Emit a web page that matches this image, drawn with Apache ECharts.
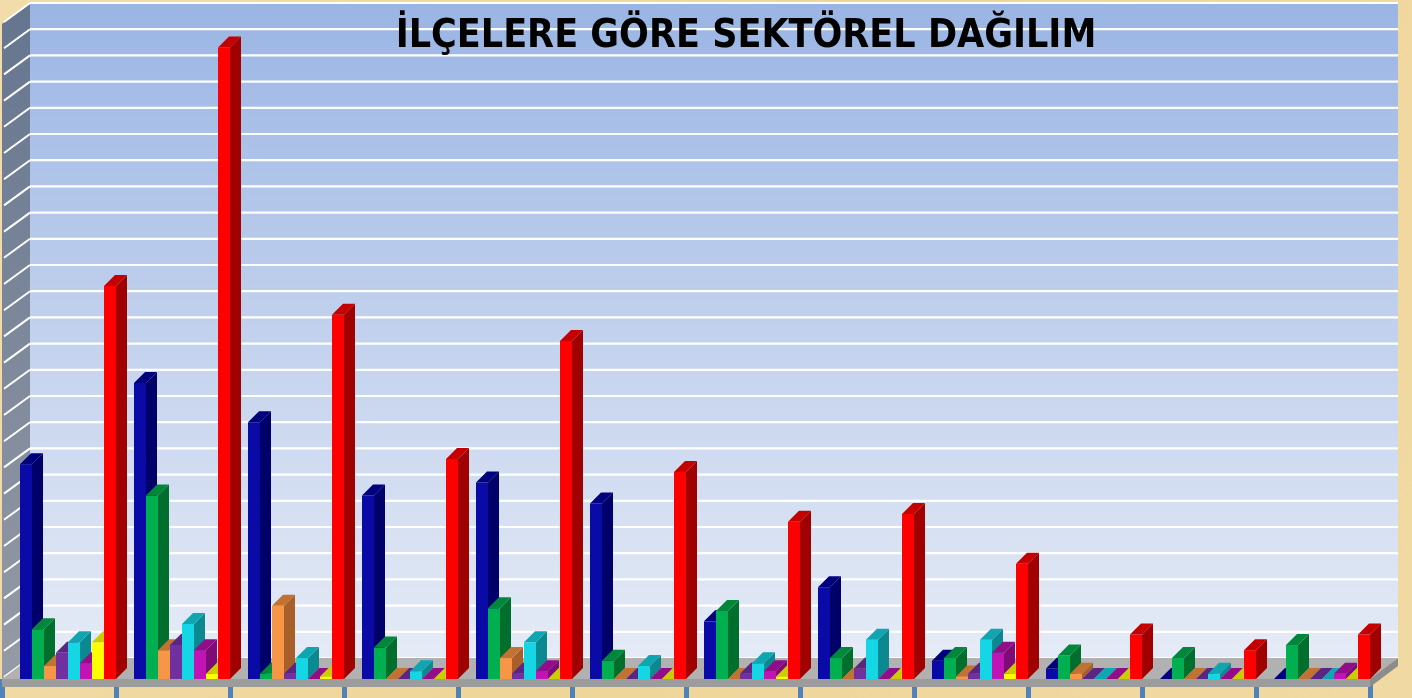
<!DOCTYPE html>
<html lang="tr">
<head>
  <meta charset="UTF-8">
  <title>İlçelere Göre Sektörel Dağılım</title>
  <script src="https://cdn.jsdelivr.net/npm/echarts@6/dist/echarts.min.js"></script>
  <style>
    html, body { margin: 0; padding: 0; background: #f0d9a2; }
    #chart { width: 1412px; height: 698px; }
  </style>
</head>
<body>
  <div id="chart"></div>
<script>
  // district names are cut off in the source picture
  const categories = ['İlçe 1', 'İlçe 2', 'İlçe 3', 'İlçe 4', 'İlçe 5', 'İlçe 6',
                      'İlçe 7', 'İlçe 8', 'İlçe 9', 'İlçe 10', 'İlçe 11', 'İlçe 12'];
  const seriesNames = ['Seri 1', 'Seri 2', 'Seri 3', 'Seri 4', 'Seri 5', 'Seri 6', 'Seri 7', 'Seri 8'];

  const blue    = [82, 113, 98, 70, 75, 67, 22, 35, 7, 4, 0, 0];
  const green   = [19, 70, 2, 12, 27, 7, 26, 8, 8, 9, 8, 13];
  const orange  = [5, 11, 28, 0, 8, 0, 0, 0, 1, 2, 0, 0];
  const purple  = [10, 13, 2, 0, 2, 0, 2, 4, 2, 0, 0, 0];
  const cyan    = [14, 21, 8, 3, 14, 5, 6, 15, 15, 0, 2, 0];
  const magenta = [6, 11, 0, 0, 3, 0, 3, 0, 10, 0, 0, 2];
  const yellow  = [14, 2, 1, 0, 0, 0, 1, 0, 2, 0, 0, 0];
  const red     = [150, 241, 139, 84, 129, 79, 60, 63, 44, 17, 11, 17];

  const values = [blue, green, orange, purple, cyan, magenta, yellow, red];

  // front / side / top colours for the fake 3d bars
  const palette = [
    ['#0a0aa6', '#00006a', '#00007e'],
    ['#00b050', '#006f2e', '#00873c'],
    ['#f79646', '#a85f2a', '#c27232'],
    ['#7030a0', '#4b1f6e', '#5a2684'],
    ['#14d6e4', '#0b8890', '#0fa6b2'],
    ['#c214b4', '#7e0b76', '#930c8a'],
    ['#ffff00', '#b8b800', '#cccc00'],
    ['#ff0000', '#a00000', '#c40000']
  ];

  const DX = 28, DY = 21;   // depth of the floor / walls
  const D = 11;             // depth of a bar
  const MAX = 250, STEP = 10;

  const chart = echarts.init(document.getElementById('chart'));

  function decor(params, api) {
    const cs = params.coordSys;
    const x = cs.x, y = cs.y, w = cs.width, h = cs.height;
    const kids = [];
    // back wall
    kids.push({
      type: 'rect',
      shape: { x: x + DX, y: y - DY, width: w, height: h },
      style: {
        fill: new echarts.graphic.LinearGradient(0, 0, 0, 1, [
          { offset: 0, color: '#9ab5e4' },
          { offset: 0.5, color: '#c2d1ed' },
          { offset: 1, color: '#e5ebf6' }
        ])
      }
    });
    // left wall
    kids.push({
      type: 'polygon',
      shape: { points: [[x, y], [x + DX, y - DY], [x + DX, y + h - DY], [x, y + h]] },
      style: {
        fill: new echarts.graphic.LinearGradient(0, 0, 0, 1, [
          { offset: 0, color: '#65758f' },
          { offset: 1, color: '#959ba6' }
        ])
      }
    });
    // grid lines on back and left wall
    for (let v = 0; v <= MAX; v += STEP) {
      const yy = api.coord([0, v])[1];
      kids.push({
        type: 'line',
        shape: { x1: x + DX, y1: yy - DY, x2: x + DX + w, y2: yy - DY },
        style: { stroke: '#ffffff', lineWidth: 2.2 }
      });
      kids.push({
        type: 'line',
        shape: { x1: x + DX, y1: yy - DY, x2: x + 2, y2: yy - 2 },
        style: { stroke: '#ffffff', lineWidth: 2 }
      });
    }
    // floor
    const fy = y + h;
    kids.push({
      type: 'polygon',
      shape: { points: [[x, fy], [x + DX, fy - DY], [x + DX + w, fy - DY], [x + w, fy]] },
      style: { fill: '#b1b1b1' }
    });
    kids.push({
      type: 'rect',
      shape: { x: x, y: fy, width: w, height: 8 },
      style: { fill: '#9c9c9c' }
    });
    kids.push({
      type: 'polygon',
      shape: { points: [[x + w, fy], [x + w + DX, fy - DY], [x + w + DX, fy - DY + 8], [x + w, fy + 8]] },
      style: { fill: '#8c8c8c' }
    });
    return { type: 'group', children: kids };
  }

  function barRenderer(k) {
    const col = palette[k];
    return function (params, api) {
      const idx = api.value(0);
      const top = api.coord([idx, api.value(1)]);
      const base = api.coord([idx, 0]);
      const band = api.size([1, 0])[0];
      const w = band * 12 / 114;
      const x0 = top[0] - band * 39 / 114 + k * w;
      const y0 = top[1], yb = base[1];
      return {
        type: 'group',
        children: [
          { type: 'rect', shape: { x: x0, y: y0, width: w, height: yb - y0 }, style: { fill: col[0] } },
          { type: 'polygon', shape: { points: [[x0 + w, yb], [x0 + w + D, yb - D], [x0 + w + D, y0 - D], [x0 + w, y0]] },
            style: { fill: col[1] } },
          { type: 'polygon', shape: { points: [[x0, y0], [x0 + D, y0 - D], [x0 + w + D, y0 - D], [x0 + w, y0]] },
            style: { fill: col[2] } }
        ]
      };
    };
  }

  const series = [{
    type: 'custom',
    name: 'decor',
    silent: true,
    z: 1,
    clip: false,
    renderItem: decor,
    data: [[0, 0]]
  }];
  values.forEach((arr, k) => {
    series.push({
      type: 'custom',
      name: seriesNames[k],
      z: 2,
      clip: false,
      renderItem: barRenderer(k),
      data: arr.map((v, i) => [i, v])
    });
  });

  chart.setOption({
    animation: false,
    backgroundColor: new echarts.graphic.LinearGradient(0, 0, 1, 1, [
      { offset: 0, color: '#f2dcaa' },
      { offset: 0.5, color: '#eed599' },
      { offset: 1, color: '#f1d9a3' }
    ]),
    title: {
      text: 'İLÇELERE GÖRE SEKTÖREL DAĞILIM',
      left: 741,
      textAlign: 'center',
      top: 12,
      textStyle: {
        fontFamily: "'Liberation Sans Narrow', 'DejaVu Sans Condensed', sans-serif",
        fontWeight: 'bold',
        fontSize: 39,
        color: '#000'
      }
    },
    grid: { left: 2, right: 42, top: 24, bottom: 19 },
    xAxis: {
      type: 'category',
      data: categories,
      boundaryGap: true,
      axisLine: { show: false },
      axisTick: { show: true, length: 19, lineStyle: { color: '#4f81bd', width: 5 } },
      axisLabel: { show: false }
    },
    yAxis: {
      type: 'value',
      min: 0,
      max: MAX,
      interval: STEP,
      axisLine: { show: false },
      axisTick: { show: false },
      axisLabel: { show: false },
      splitLine: { show: false }
    },
    series: series
  });
</script>
</body>
</html>
